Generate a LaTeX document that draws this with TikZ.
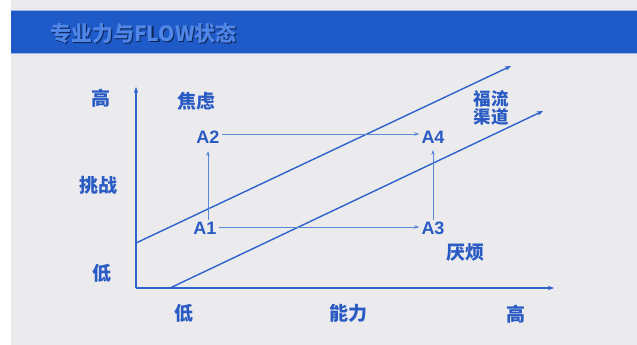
\documentclass[tikz,border=0pt]{standalone}
\usepackage{fontspec}
\setmainfont{Liberation Sans}
\newfontfamily\cjk{Noto Sans CJK SC}
\usetikzlibrary{arrows.meta}
\definecolor{bandblue}{HTML}{1F5AC9}
\definecolor{titleblue}{HTML}{4F86E8}
\definecolor{txtblue}{HTML}{2A5BC4}
\definecolor{lineblue}{HTML}{2E62CC}
\definecolor{thinblue}{HTML}{5A88D8}
\definecolor{bgray}{HTML}{EBEBED}
\begin{document}
\begin{tikzpicture}[x=1pt,y=-1pt,
  lbl/.style={text=txtblue,font=\cjk\bfseries\fontsize{19}{21}\selectfont,inner sep=0pt},
  pt/.style={text=txtblue,font=\bfseries\fontsize{18}{20}\selectfont,inner sep=2pt},
  axis/.style={draw=lineblue,line width=1.4pt,-{Stealth[length=6pt,width=4.5pt]}},
  thinarrow/.style={draw=thinblue,line width=0.7pt,-{Stealth[length=5pt,width=3.5pt]}}]
\useasboundingbox (0,0) rectangle (637,345);
\fill[white] (0,0) rectangle (637,345);
\fill[bgray] (11,0) rectangle (637,345);
\fill[bandblue] (11,10) rectangle (637,54);
\draw[white!55!bandblue,line width=0.7pt] (11,10.4) -- (637,10.4);
\draw[white!55!bandblue,line width=0.7pt] (11,53.6) -- (637,53.6);
\node[anchor=west,text=black!60!bandblue,font=\cjk\bfseries\fontsize{21}{23}\selectfont,inner sep=0pt] (titleshadow) at (51.2,34.2) {专业力与FLOW状态};
\node[anchor=west,text=titleblue,font=\cjk\bfseries\fontsize{21}{23}\selectfont,inner sep=0pt] (title) at (50,33) {专业力与FLOW状态};
% axes
\coordinate (O) at (136,288);
\coordinate (Ytop) at (136,87);
\coordinate (Xend) at (554,288);
\draw[axis] (O) -- (Ytop);
\draw[axis] (O) -- (Xend);
% flow channel
\coordinate (U1) at (136,243);
\coordinate (U2) at (511,66);
\coordinate (L1) at (170,288);
\coordinate (L2) at (543,111);
\draw[axis] (U1) -- (U2);
\draw[axis] (L1) -- (L2);
% axis labels
\node[lbl] (yhigh) at (101,98) {高};
\node[lbl] (ychal) at (98,185) {挑战};
\node[lbl] (ylow) at (102,273) {低};
\node[lbl] (xlow) at (184,313) {低};
\node[lbl] (xabil) at (348,313) {能力};
\node[lbl] (xhigh) at (516,314) {高};
\node[lbl] (anx) at (196,101) {焦虑};
\node[lbl] (bore) at (465,252) {厌烦};
\node[lbl,font=\cjk\bfseries\fontsize{17.5}{18}\selectfont,align=center] (flow) at (491,108) {福流\\渠道};
% points
\node[pt] (A1) at (205,228.5) {A1};
\node[pt] (A2) at (208,137.5) {A2};
\node[pt] (A3) at (433,228.5) {A3};
\node[pt] (A4) at (433,137.5) {A4};
\draw[thinarrow] (A1.north -| A2.south) -- ([yshift=-5pt]A2.south);
\draw[thinarrow] ([yshift=1.5pt]A1.east) -- ([yshift=1.5pt]A3.west);
\draw[thinarrow] ([yshift=3.5pt]A2.east) -- ([yshift=3.5pt]A4.west);
\draw[thinarrow] (A3.north) -- ([yshift=-4pt]A4.south);
\end{tikzpicture}
\end{document}
